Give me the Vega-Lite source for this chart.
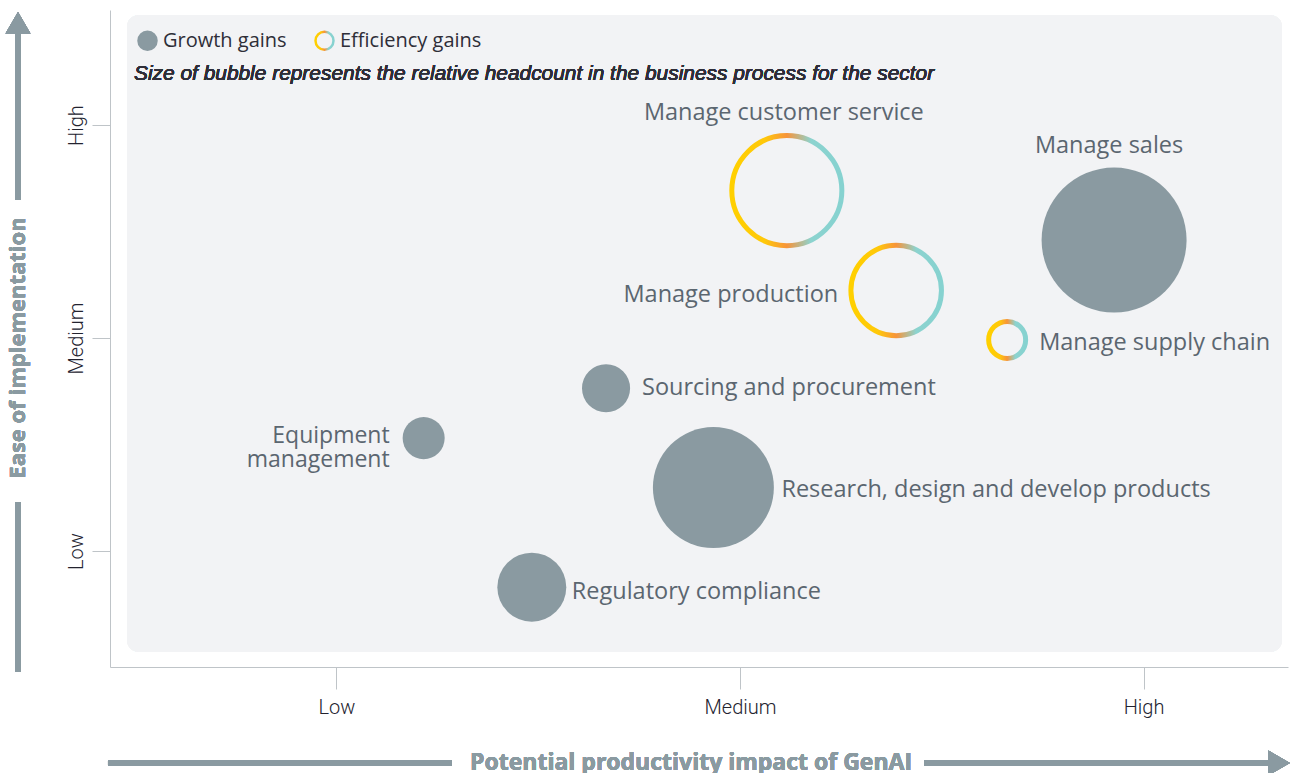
{
  "$schema": "https://vega.github.io/schema/vega-lite/v6.json",
  "width": 1178,
  "height": 657,
  "autosize": {"type": "none"},
  "padding": {"left": 110, "top": 10, "right": 2, "bottom": 106},
  "background": "white",
  "config": {"view": {"stroke": null}, "font": "Open Sans"},
  "data": {
    "values": [
      {"process": "Manage customer service", "gain": "Efficiency gains", "impact": 2.116, "ease": 2.692, "headcount": 57.6},
      {"process": "Manage production", "gain": "Efficiency gains", "impact": 2.387, "ease": 2.223, "headcount": 39.0},
      {"process": "Manage supply chain", "gain": "Efficiency gains", "impact": 2.662, "ease": 1.991, "headcount": 6.5},
      {"process": "Manage sales", "gain": "Growth gains", "impact": 2.927, "ease": 2.46, "headcount": 100},
      {"process": "Research, design and develop products", "gain": "Growth gains", "impact": 1.934, "ease": 1.298, "headcount": 69.6},
      {"process": "Sourcing and procurement", "gain": "Growth gains", "impact": 1.668, "ease": 1.764, "headcount": 11.0},
      {"process": "Equipment management", "gain": "Growth gains", "impact": 1.216, "ease": 1.53, "headcount": 8.4},
      {"process": "Regulatory compliance", "gain": "Growth gains", "impact": 1.484, "ease": 0.83, "headcount": 22.6}
    ]
  },
  "layer": [
    {
      "mark": {"type": "rect", "fill": "#F2F3F5", "cornerRadius": 12},
      "encoding": {
        "x": {"datum": 0.4808, "type": "quantitative", "title": null, "scale": {"domain": [0.4387, 3.358], "nice": false, "zero": false}},
        "x2": {"datum": 3.3432},
        "y": {"datum": 3.5164, "type": "quantitative", "title": null, "scale": {"domain": [0.4554, 3.54], "nice": false, "zero": false}},
        "y2": {"datum": 0.5258}
      }
    },
    {
      "transform": [{"filter": "datum.gain === 'Growth gains'"}],
      "mark": {"type": "circle", "opacity": 1},
      "encoding": {
        "x": {"field": "impact", "type": "quantitative", "title": null,
          "axis": {"orient": "bottom", "values": [1, 2, 3], "labelExpr": "datum.value === 1 ? 'Low' : datum.value === 2 ? 'Medium' : 'High'", "title": null, "grid": false,
            "domainColor": "#BFC4C8", "tickColor": "#BFC4C8", "tickSize": 22, "labelPadding": 8, "labelFont": "Roboto", "labelFontWeight": 300, "labelFontSize": 20, "labelColor": "#23232F"}},
        "y": {"field": "ease", "type": "quantitative", "title": null,
          "axis": {"orient": "left", "values": [1, 2, 3], "labelExpr": "datum.value === 1 ? 'Low' : datum.value === 2 ? 'Medium' : 'High'", "title": null, "grid": false,
            "domainColor": "#BFC4C8", "tickColor": "#BFC4C8", "tickSize": 18, "labelPadding": 6, "labelAngle": -90, "labelAlign": "center", "labelBaseline": "bottom",
            "labelFont": "Roboto", "labelFontWeight": 300, "labelFontSize": 20, "labelColor": "#23232F"}},
        "size": {"field": "headcount", "type": "quantitative", "scale": {"domain": [0, 100], "range": [0, 21025]}, "legend": null},
        "color": {"field": "gain", "type": "nominal",
          "scale": {"domain": ["Growth gains", "Efficiency gains"], "range": ["#8A9AA1", "#F5A623"]},
          "legend": {"title": null, "orient": "none", "legendX": 27, "legendY": 20, "direction": "horizontal", "padding": 0,
            "symbolType": "circle", "symbolSize": 324, "symbolStrokeWidth": 2.5, "labelFont": "Open Sans", "labelFontSize": 20, "labelColor": "#2E2E38",
            "labelOffset": 5, "columnPadding": 23,
            "encoding": {"symbols": {
              "fillOpacity": {"value": {"expr": "datum.value === 'Efficiency gains' ? 0 : 1"}},
              "stroke": {"value": {"expr": "datum.value === 'Efficiency gains' ? {gradient: 'linear', x1: 0, y1: 0, x2: 1, y2: 0, stops: [{offset: 0, color: '#FFD000'}, {offset: 0.3, color: '#FFC80A'}, {offset: 0.5, color: '#F7943A'}, {offset: 0.72, color: '#8CD3CF'}, {offset: 1, color: '#86D2D0'}]} : '#8A9AA1'"}},
              "strokeWidth": {"value": 2.5}
            }}}}
      }
    },
    {
      "transform": [{"filter": "datum.gain === 'Efficiency gains'"}],
      "mark": {"type": "point", "shape": "circle", "filled": false, "opacity": 1, "strokeWidth": 5,
        "stroke": {"gradient": "linear", "x1": 0, "y1": 0, "x2": 1, "y2": 0, "stops": [{"offset": 0, "color": "#FFD000"}, {"offset": 0.3, "color": "#FFC80A"}, {"offset": 0.5, "color": "#F7943A"}, {"offset": 0.72, "color": "#8CD3CF"}, {"offset": 1, "color": "#86D2D0"}]}},
      "encoding": {
        "x": {"field": "impact", "type": "quantitative", "title": null},
        "y": {"field": "ease", "type": "quantitative", "title": null},
        "size": {"field": "headcount", "type": "quantitative", "legend": null}
      }
    },
    {
      "transform": [{"filter": "datum.process === 'Manage customer service'"}],
      "mark": {"type": "text", "align": "center", "baseline": "middle", "dx": -3, "dy": -78, "fontSize": 23.5, "font": "Open Sans", "color": "#5B6670"},
      "encoding": {"x": {"field": "impact", "type": "quantitative", "title": null}, "y": {"field": "ease", "type": "quantitative", "title": null}, "text": {"field": "process"}}
    },
    {
      "transform": [{"filter": "datum.process === 'Manage sales'"}],
      "mark": {"type": "text", "align": "center", "baseline": "middle", "dx": -5, "dy": -94, "fontSize": 23.5, "font": "Open Sans", "color": "#5B6670"},
      "encoding": {"x": {"field": "impact", "type": "quantitative", "title": null}, "y": {"field": "ease", "type": "quantitative", "title": null}, "text": {"field": "process"}}
    },
    {
      "transform": [{"filter": "datum.process === 'Manage production'"}],
      "mark": {"type": "text", "align": "right", "baseline": "middle", "dx": -58, "dy": 4, "fontSize": 23.5, "font": "Open Sans", "color": "#5B6670"},
      "encoding": {"x": {"field": "impact", "type": "quantitative", "title": null}, "y": {"field": "ease", "type": "quantitative", "title": null}, "text": {"field": "process"}}
    },
    {
      "transform": [{"filter": "datum.process === 'Manage supply chain'"}],
      "mark": {"type": "text", "align": "left", "baseline": "middle", "dx": 32, "dy": 3, "fontSize": 23.5, "font": "Open Sans", "color": "#5B6670"},
      "encoding": {"x": {"field": "impact", "type": "quantitative", "title": null}, "y": {"field": "ease", "type": "quantitative", "title": null}, "text": {"field": "process"}}
    },
    {
      "transform": [{"filter": "datum.process === 'Sourcing and procurement'"}],
      "mark": {"type": "text", "align": "left", "baseline": "middle", "dx": 36, "dy": 0, "fontSize": 23.5, "font": "Open Sans", "color": "#5B6670"},
      "encoding": {"x": {"field": "impact", "type": "quantitative", "title": null}, "y": {"field": "ease", "type": "quantitative", "title": null}, "text": {"field": "process"}}
    },
    {
      "transform": [{"filter": "datum.process === 'Equipment management'"}],
      "mark": {"type": "text", "align": "right", "baseline": "middle", "lineBreak": " ", "lineHeight": 24, "dx": -34, "dy": -2, "fontSize": 23, "font": "Open Sans", "color": "#5B6670"},
      "encoding": {"x": {"field": "impact", "type": "quantitative", "title": null}, "y": {"field": "ease", "type": "quantitative", "title": null}, "text": {"field": "process"}}
    },
    {
      "transform": [{"filter": "datum.process === 'Research, design and develop products'"}],
      "mark": {"type": "text", "align": "left", "baseline": "middle", "dx": 68, "dy": 2, "fontSize": 23.5, "font": "Open Sans", "color": "#5B6670"},
      "encoding": {"x": {"field": "impact", "type": "quantitative", "title": null}, "y": {"field": "ease", "type": "quantitative", "title": null}, "text": {"field": "process"}}
    },
    {
      "transform": [{"filter": "datum.process === 'Regulatory compliance'"}],
      "mark": {"type": "text", "align": "left", "baseline": "middle", "dx": 40, "dy": 5, "fontSize": 23.5, "font": "Open Sans", "color": "#5B6670"},
      "encoding": {"x": {"field": "impact", "type": "quantitative", "title": null}, "y": {"field": "ease", "type": "quantitative", "title": null}, "text": {"field": "process"}}
    },
    {
      "mark": {"type": "text", "align": "left", "baseline": "middle", "fontSize": 20.9, "fontStyle": "italic", "fontWeight": "normal", "font": "Liberation Sans", "color": "#2E2E38"},
      "encoding": {"x": {"datum": 0.4981, "type": "quantitative", "title": null}, "y": {"datum": 3.2394, "type": "quantitative", "title": null},
        "text": {"value": "Size of bubble represents the relative headcount in the business process for the sector"}}
    },
    {
      "mark": {"type": "rule", "color": "#8A9AA1", "strokeWidth": 5},
      "encoding": {"x": {"datum": 0.2107, "type": "quantitative", "title": null}, "y": {"datum": 3.432, "type": "quantitative", "title": null}, "y2": {"datum": 2.648}}
    },
    {
      "mark": {"type": "rule", "color": "#8A9AA1", "strokeWidth": 5},
      "encoding": {"x": {"datum": 0.2107, "type": "quantitative", "title": null}, "y": {"datum": 1.23, "type": "quantitative", "title": null}, "y2": {"datum": 0.432}}
    },
    {
      "mark": {"type": "point", "shape": "triangle-up", "filled": true, "opacity": 1, "color": "#8A9AA1", "size": 625},
      "encoding": {"x": {"datum": 0.2107, "type": "quantitative", "title": null}, "y": {"datum": 3.48, "type": "quantitative", "title": null}}
    },
    {
      "mark": {"type": "text", "angle": 270, "align": "center", "baseline": "middle", "fontSize": 22, "fontWeight": "bold", "font": "Open Sans", "color": "#8A9AA1"},
      "encoding": {"x": {"datum": 0.2107, "type": "quantitative", "title": null}, "y": {"datum": 1.953, "type": "quantitative", "title": null},
        "text": {"value": "Ease of implementation"}}
    },
    {
      "mark": {"type": "rule", "color": "#8A9AA1", "strokeWidth": 5},
      "encoding": {"y": {"datum": 0.005, "type": "quantitative", "title": null}, "x": {"datum": 0.4337, "type": "quantitative", "title": null}, "x2": {"datum": 1.2862}}
    },
    {
      "mark": {"type": "rule", "color": "#8A9AA1", "strokeWidth": 5},
      "encoding": {"y": {"datum": 0.005, "type": "quantitative", "title": null}, "x": {"datum": 2.456, "type": "quantitative", "title": null}, "x2": {"datum": 3.3185}}
    },
    {
      "mark": {"type": "point", "shape": "triangle-right", "filled": true, "opacity": 1, "color": "#8A9AA1", "size": 625},
      "encoding": {"x": {"datum": 3.336, "type": "quantitative", "title": null}, "y": {"datum": 0.005, "type": "quantitative", "title": null}}
    },
    {
      "mark": {"type": "text", "align": "center", "baseline": "middle", "fontSize": 23, "fontWeight": "bold", "font": "Open Sans", "color": "#8A9AA1"},
      "encoding": {"x": {"datum": 1.8786, "type": "quantitative", "title": null}, "y": {"datum": 0.007, "type": "quantitative", "title": null},
        "text": {"value": "Potential productivity impact of GenAI"}}
    }
  ]
}
